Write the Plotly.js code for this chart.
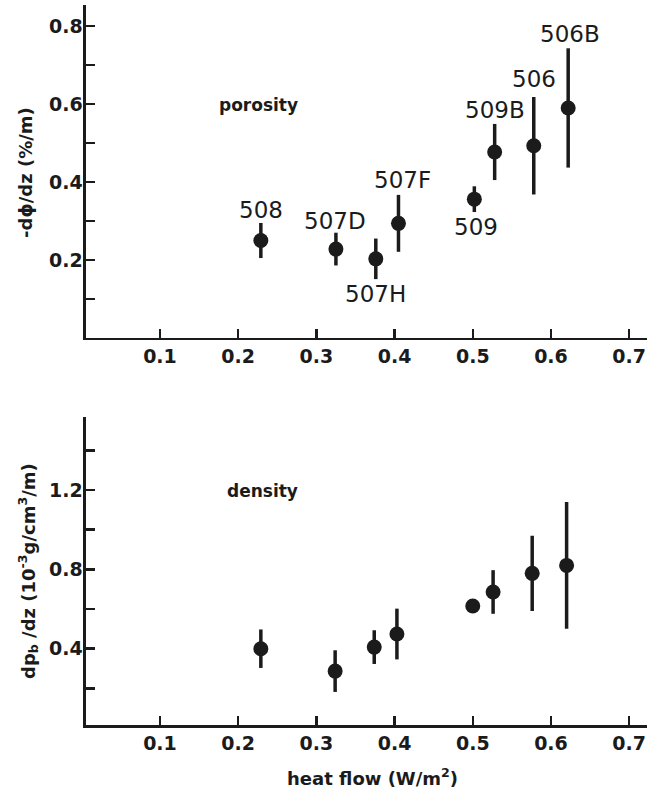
<!DOCTYPE html>
<html><head><meta charset="utf-8">
<script src="https://cdn.plot.ly/plotly-3.0.1.min.js"></script>
<style>html,body{margin:0;padding:0;background:#fff;}#chart{width:647px;height:788px;}</style>
</head><body><div id="chart"></div>
<script>
// ---- data ----
const sites = ['508','507D','507H','507F','509','509B','506','506B'];
const heatFlow = [0.229, 0.325, 0.376, 0.405, 0.502, 0.528, 0.578, 0.622];
const porosity = [0.250, 0.228, 0.203, 0.294, 0.356, 0.477, 0.493, 0.590];
const porosityErr = [0.045, 0.042, 0.052, 0.073, 0.033, 0.072, 0.125, 0.153];
const densityX = [0.229, 0.324, 0.374, 0.403, 0.500, 0.526, 0.576, 0.620];
const density = [0.400, 0.287, 0.408, 0.474, 0.615, 0.686, 0.780, 0.820];
const densityErr = [0.097, 0.105, 0.085, 0.128, 0.02, 0.110, 0.190, 0.320];
const xTicks = [0.1, 0.2, 0.3, 0.4, 0.5, 0.6, 0.7];
const yTicksTop = [0.2, 0.4, 0.6, 0.8];
const yTicksBot = [0.4, 0.8, 1.2];

// ---- label offsets (pixels) ----
const labelDx = [0, -1, 0, 4, 2, 0, 0, 2];
const labelDy = [31, 28, -35, 43, -28, 42, 67, 74];

const ink = '#1b1b1b';
const tickFont = {family: 'DejaVu Sans', size: 19, color: ink, weight: 'bold'};

const markerStyle = {size: 15, color: ink, symbol: 'circle'};
const errStyle = {type: 'data', visible: true, thickness: 3.5, width: 0, color: ink};

const traces = [
  {x: heatFlow, y: porosity, type: 'scatter', mode: 'markers', xaxis: 'x', yaxis: 'y',
   marker: markerStyle, error_y: Object.assign({array: porosityErr}, errStyle), hoverinfo: 'skip'},
  {x: densityX, y: density, type: 'scatter', mode: 'markers', xaxis: 'x2', yaxis: 'y2',
   marker: markerStyle, error_y: Object.assign({array: densityErr}, errStyle), hoverinfo: 'skip'}
];

const annotations = sites.map((s, i) => ({
  x: heatFlow[i], y: porosity[i], xref: 'x', yref: 'y', text: s, showarrow: false,
  xanchor: 'center', yanchor: 'middle', xshift: labelDx[i], yshift: labelDy[i],
  font: {family: 'DejaVu Sans', size: 23, color: ink}
}));
const bold = (size) => ({family: 'DejaVu Sans', size: size, color: ink, weight: 'bold'});
annotations.push(
  {x: 0.3988, y: 0.8668, xref: 'paper', yref: 'paper', text: 'porosity', showarrow: false,
   xanchor: 'center', yanchor: 'middle', font: bold(17)},
  {x: 0.405, y: 0.3769, xref: 'paper', yref: 'paper', text: 'density', showarrow: false,
   xanchor: 'center', yanchor: 'middle', font: bold(17)},
  {x: 0.0402, y: 0.7805, xref: 'paper', yref: 'paper', text: '-dϕ/dz (%/m)', textangle: -90, showarrow: false,
   xanchor: 'center', yanchor: 'middle', font: bold(18)},
  {x: 0.0433, y: 0.2754, xref: 'paper', yref: 'paper', text: 'dp<sub>b</sub> /dz (10<sup>-3</sup>g/cm<sup>3</sup>/m)', textangle: -90, showarrow: false,
   xanchor: 'center', yanchor: 'middle', font: bold(18)},
  {x: 0.5765, y: 0.014, xref: 'paper', yref: 'paper', text: 'heat flow (W/m<sup>2</sup>)', showarrow: false,
   xanchor: 'center', yanchor: 'middle', font: bold(18)}
);

const xCommon = {
  domain: [0.1329, 1], range: [0.0054, 0.7228], showgrid: false, zeroline: false,
  showline: true, linecolor: ink, linewidth: 2.5, ticks: 'inside', ticklen: 9, tickwidth: 2.5, tickcolor: ink,
  tickmode: 'array', tickvals: xTicks, ticktext: xTicks.map(v => v.toFixed(1)), tickfont: tickFont, fixedrange: true
};
const yCommon = {
  showgrid: false, zeroline: false, showline: true, linecolor: ink, linewidth: 2.5,
  ticks: 'inside', ticklen: 9, tickwidth: 2.5, tickcolor: ink, tickmode: 'array', tickfont: tickFont, fixedrange: true,
  ticklabelstandoff: -3,
  minor: {tickmode: 'linear', tick0: 0, ticks: 'inside', ticklen: 9, tickwidth: 2.5, tickcolor: ink, showgrid: false}
};

const layout = {
  width: 647, height: 788, margin: {l: 0, r: 0, t: 0, b: 0},
  paper_bgcolor: '#fff', plot_bgcolor: '#fff', showlegend: false,
  xaxis: Object.assign({anchor: 'y'}, xCommon),
  xaxis2: Object.assign({anchor: 'y2'}, xCommon),
  yaxis: Object.assign({}, yCommon, {anchor: 'x', domain: [0.5711, 0.99365], range: [0, 0.854],
    tickvals: yTicksTop, ticktext: yTicksTop.map(v => v.toFixed(1)),
    minor: Object.assign({}, yCommon.minor, {dtick: 0.1})}),
  yaxis2: Object.assign({}, yCommon, {anchor: 'x2', domain: [0.0799, 0.4712], range: [0.015, 1.57],
    tickvals: yTicksBot, ticktext: yTicksBot.map(v => v.toFixed(1)),
    minor: Object.assign({}, yCommon.minor, {dtick: 0.2})}),
  annotations: annotations
};

Plotly.newPlot('chart', traces, layout, {staticPlot: true, displayModeBar: false});
</script></body></html>
